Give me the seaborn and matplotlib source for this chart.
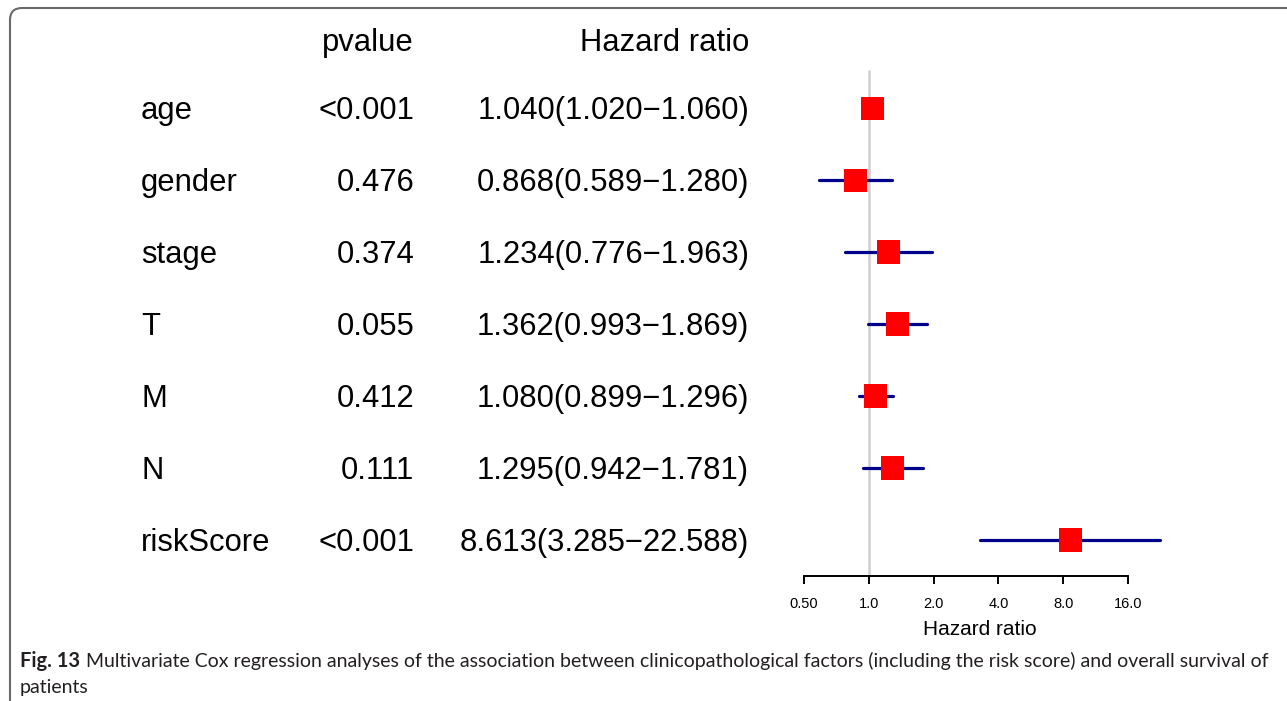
import numpy as np
import pandas as pd
import matplotlib
matplotlib.use("Agg")
import matplotlib.pyplot as plt
import matplotlib.transforms as mtransforms
from matplotlib.path import Path
from matplotlib.patches import PathPatch
from matplotlib.ticker import FixedLocator, FixedFormatter, NullLocator
import seaborn as sns

# ---------------- data ----------------
variables = ["age", "gender", "stage", "T", "M", "N", "riskScore"]
pvalues = ["<0.001", "0.476", "0.374", "0.055", "0.412", "0.111", "<0.001"]
hazard_ratio = [1.040, 0.868, 1.234, 1.362, 1.080, 1.295, 8.613]
ci_low = [1.020, 0.589, 0.776, 0.993, 0.899, 0.942, 3.285]
ci_high = [1.060, 1.280, 1.963, 1.869, 1.296, 1.781, 22.588]
tick_values = [0.5, 1, 2, 4, 8, 16]
tick_labels = ["0.50", "1.0", "2.0", "4.0", "8.0", "16.0"]
caption_bold = "Fig. 13"
caption_text = ("Multivariate Cox regression analyses of the association between clinicopathological "
                "factors (including the risk score) and overall survival of")
caption_text2 = "patients"

df = pd.DataFrame({"var": variables, "p": pvalues, "hr": hazard_ratio,
                   "lo": ci_low, "hi": ci_high})
df["pos"] = np.arange(len(df))
df["hr_txt"] = [f"{h:.3f}({l:.3f}\u2212{u:.3f})" for h, l, u in zip(df.hr, df.lo, df.hi)]

sns.set_theme(style="white")
plt.rcParams["font.family"] = ["Liberation Sans", "DejaVu Sans"]
plt.rcParams["text.color"] = "black"
plt.rcParams["axes.labelcolor"] = "black"
plt.rcParams["xtick.color"] = "black"

W, H = 1287, 701
fig = plt.figure(figsize=(W / 100, H / 100), dpi=100)
fig.patch.set_facecolor("white")

# forest axes
ax_l, ax_r, ax_t, ax_b = 780, 1180, 60, 576
ax = fig.add_axes([ax_l / W, 1 - ax_b / H, (ax_r - ax_l) / W, (ax_b - ax_t) / H])
ax.set_facecolor("none")
ax.set_xscale("log", base=2)
ax.set_xlim(0.387, 27.9)
ax.set_ylim(6.5, -0.667)

ax.vlines(1, -0.53, 6.5, color="#d0d0d0", lw=1.8, zorder=1)
ax.hlines(df.pos, df.lo, df.hi, color="#00008B", lw=2.3, zorder=2, clip_on=False,
          capstyle="round")
sns.scatterplot(data=df, x="hr", y="pos", marker="s", color="#FF0000", s=275,
                edgecolor="none", legend=False, zorder=3, ax=ax, clip_on=False)

for s in ["top", "right", "left"]:
    ax.spines[s].set_visible(False)
ax.spines["bottom"].set_bounds(0.5, 16)
ax.spines["bottom"].set_linewidth(1.4)
ax.spines["bottom"].set_color("black")
ax.xaxis.set_major_locator(FixedLocator(tick_values))
ax.xaxis.set_major_formatter(FixedFormatter(tick_labels))
ax.xaxis.set_minor_locator(NullLocator())
ax.tick_params(axis="x", bottom=True, direction="out", length=5.8, width=1.4,
               color="black", labelcolor="black", labelsize=10.5, pad=9)
ax.set_yticks([])
ax.set_ylabel("")
ax.set_xlabel("Hazard ratio", fontsize=15, labelpad=7, color="black")

# table text: cap height centred on each row
fs = 22.3
base = mtransforms.blended_transform_factory(fig.transFigure, ax.transData)
tr = base + mtransforms.ScaledTranslation(0, -11.0 / 100, fig.dpi_scale_trans)
ax.text(414 / W, -0.944, "pvalue", transform=tr, ha="right", va="baseline", fontsize=fs, clip_on=False)
ax.text(749 / W, -0.944, "Hazard ratio", transform=tr, ha="right", va="baseline", fontsize=fs, clip_on=False)
for _, r in df.iterrows():
    ax.text(141 / W, r.pos, r["var"], transform=tr, ha="left", va="baseline", fontsize=fs, clip_on=False)
    ax.text(414 / W, r.pos, r["p"], transform=tr, ha="right", va="baseline", fontsize=fs, clip_on=False)
    ax.text(749 / W, r.pos, r["hr_txt"], transform=tr, ha="right", va="baseline", fontsize=fs, clip_on=False)

# frame with rounded corner (pixel coords)
verts = [(10, -20), (10, H - 8 - 12), (10, H - 8), (22, H - 8), (W + 20, H - 8)]
codes = [Path.MOVETO, Path.LINETO, Path.CURVE3, Path.CURVE3, Path.LINETO]
frame = PathPatch(Path(verts, codes), fill=False, edgecolor="#6a6a6a", lw=1.5,
                  transform=mtransforms.IdentityTransform())
fig.add_artist(frame)

# caption
cap_font = ["Lato", "DejaVu Sans"]
cfs = 14.0
fig.text(20 / W, 1 - 661 / H, caption_bold, ha="left", va="center", fontsize=cfs + 0.5,
         fontweight="bold", family=cap_font, color="#231f20")
fig.text(86 / W, 1 - 661 / H, caption_text, ha="left", va="center", fontsize=cfs,
         family=cap_font, color="#231f20")
fig.text(20 / W, 1 - 687 / H, caption_text2, ha="left", va="center", fontsize=cfs,
         family=cap_font, color="#231f20")

fig.savefig("out.png", dpi=100, facecolor="white")
